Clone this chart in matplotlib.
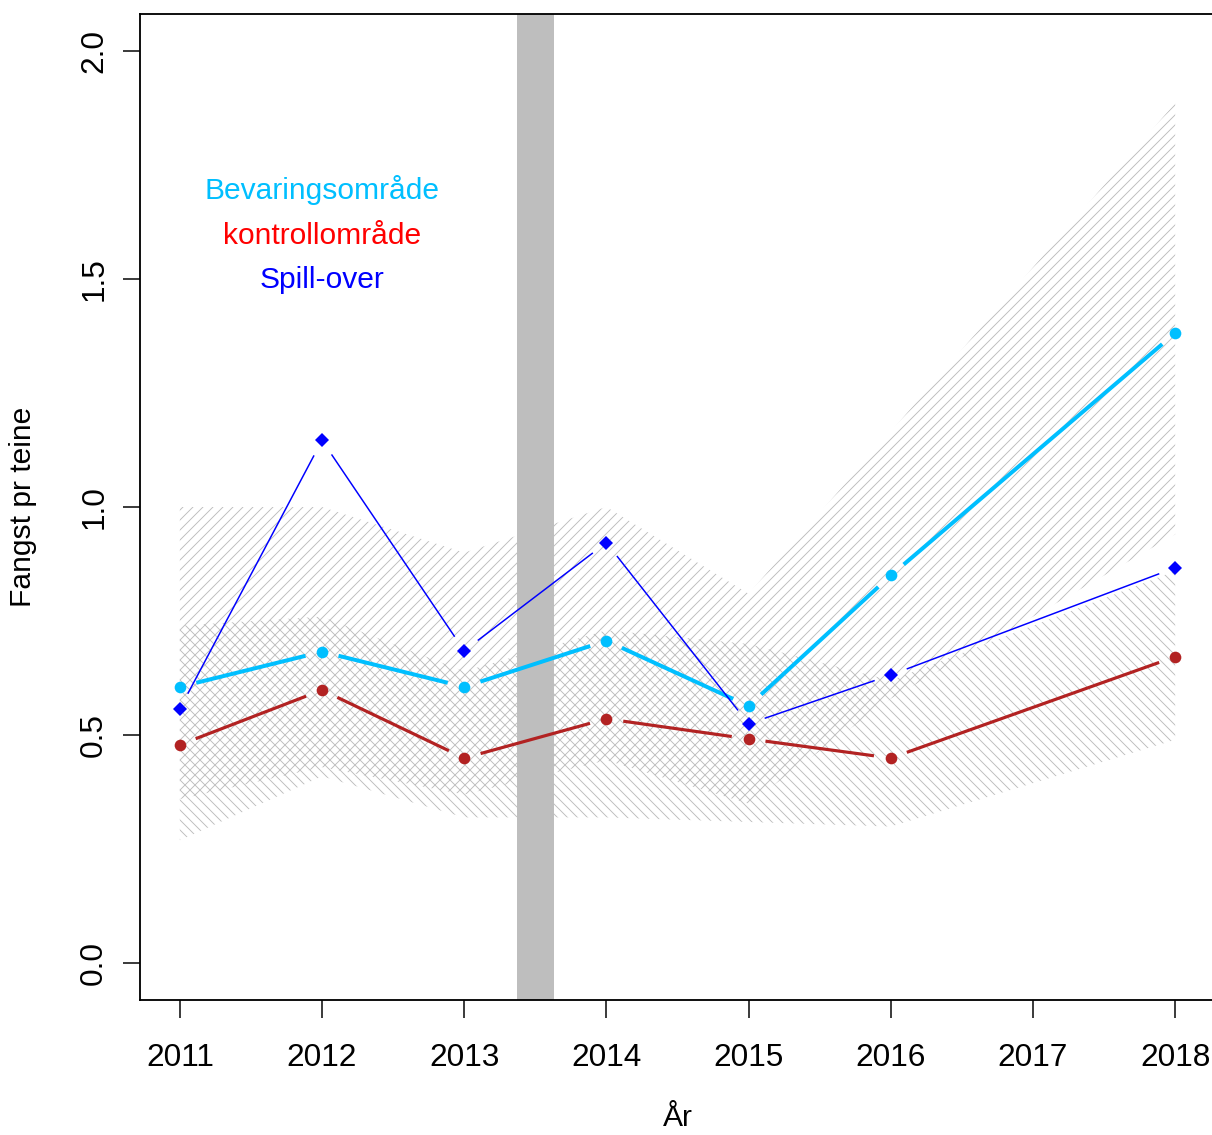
import numpy as np
import matplotlib
matplotlib.use("Agg")
import matplotlib.pyplot as plt

# data
years = [2011, 2012, 2013, 2014, 2015, 2016, 2018]
bevaring = [0.606, 0.683, 0.606, 0.707, 0.564, 0.850, 1.381]
kontroll = [0.479, 0.599, 0.450, 0.536, 0.492, 0.450, 0.672]
spillover = [0.558, 1.146, 0.685, 0.922, 0.525, 0.632, 0.867]

# confidence bands (hatched)
bev_lo = [0.36, 0.43, 0.37, 0.445, 0.35, 0.58, 0.94]
bev_hi = [1.00, 1.00, 0.90, 1.00, 0.81, 1.165, 1.885]
kon_lo = [0.27, 0.41, 0.32, 0.32, 0.31, 0.30, 0.49]
kon_hi = [0.74, 0.76, 0.64, 0.73, 0.70, 0.62, 0.86]

# period marked in grey
tiltak = [2013.37, 2013.63]

xticks = list(range(2011, 2019))
yticks = [0.0, 0.5, 1.0, 1.5, 2.0]
legend_txt = ["Bevaringsområde", "kontrollområde", "Spill-over"]
legend_col = ["#00BFFF", "#FF0000", "#0000FF"]
legend_y = [1.695, 1.593, 1.497]

hatch_col = "#bdbdbd"
plt.rcParams["font.family"] = ["Liberation Sans", "DejaVu Sans"]
plt.rcParams["font.size"] = 18
plt.rcParams["hatch.linewidth"] = 0.55
plt.rcParams["hatch.color"] = hatch_col

W, H, DPI = 1212, 1135, 120
fig = plt.figure(figsize=(W / DPI, H / DPI), dpi=DPI)
ax = fig.add_axes([140 / W, 135 / H, 1075 / W, 986 / H])
ax.set_xlim(2010.72, 2018.28)
ax.set_ylim(-0.08, 2.08)

ax.fill_between(years, bev_lo, bev_hi, facecolor="none", edgecolor=hatch_col,
                hatch="////", linewidth=0, zorder=1)
ax.fill_between(years, kon_lo, kon_hi, facecolor="none", edgecolor=hatch_col,
                hatch="\\\\\\\\", linewidth=0, zorder=1)
ax.axvspan(tiltak[0], tiltak[1], color="#bebebe", lw=0, zorder=2)


def line_b(x, y, color, lw, marker, ms, gap=17):
    # R type="b": lines stop short of the points
    pts = ax.transData.transform(np.column_stack([x, y]))
    inv = ax.transData.inverted()
    for p0, p1 in zip(pts[:-1], pts[1:]):
        d = p1 - p0
        L = np.hypot(*d)
        if L <= 2 * gap:
            continue
        u = d / L
        seg = inv.transform([p0 + u * gap, p1 - u * gap])
        ax.plot(seg[:, 0], seg[:, 1], color=color, lw=lw,
                solid_capstyle="butt", zorder=3)
    ax.plot(x, y, ls="none", marker=marker, ms=ms, color=color, mew=0, zorder=4)


line_b(years, bevaring, "#00BFFF", 2.4, "o", 7)
line_b(years, kontroll, "#B22222", 1.9, "o", 7)
line_b(years, spillover, "#0000FF", 0.9, "D", 5.6)

for t, c, yy in zip(legend_txt, legend_col, legend_y):
    ax.text(2012.0, yy, t, color=c, ha="center", va="center", fontsize=18)

ax.set_xticks(xticks)
ax.set_yticks(yticks)
ax.set_yticklabels(["%.1f" % v for v in yticks])
ax.tick_params(direction="out", length=10.5, width=0.9, labelsize=19)
ax.tick_params(axis="x", pad=15)
ax.tick_params(axis="y", pad=8, labelrotation=90)
for lab in ax.get_yticklabels():
    lab.set_va("center")
for s in ax.spines.values():
    s.set_linewidth(1.1)

ax.set_xlabel("År", fontsize=18)
ax.xaxis.set_label_coords(0.5, -0.105)
ax.set_ylabel("Fangst pr teine", fontsize=18)
ax.yaxis.set_label_coords(-0.096, 0.5)

fig.savefig("out.png", dpi=DPI)
